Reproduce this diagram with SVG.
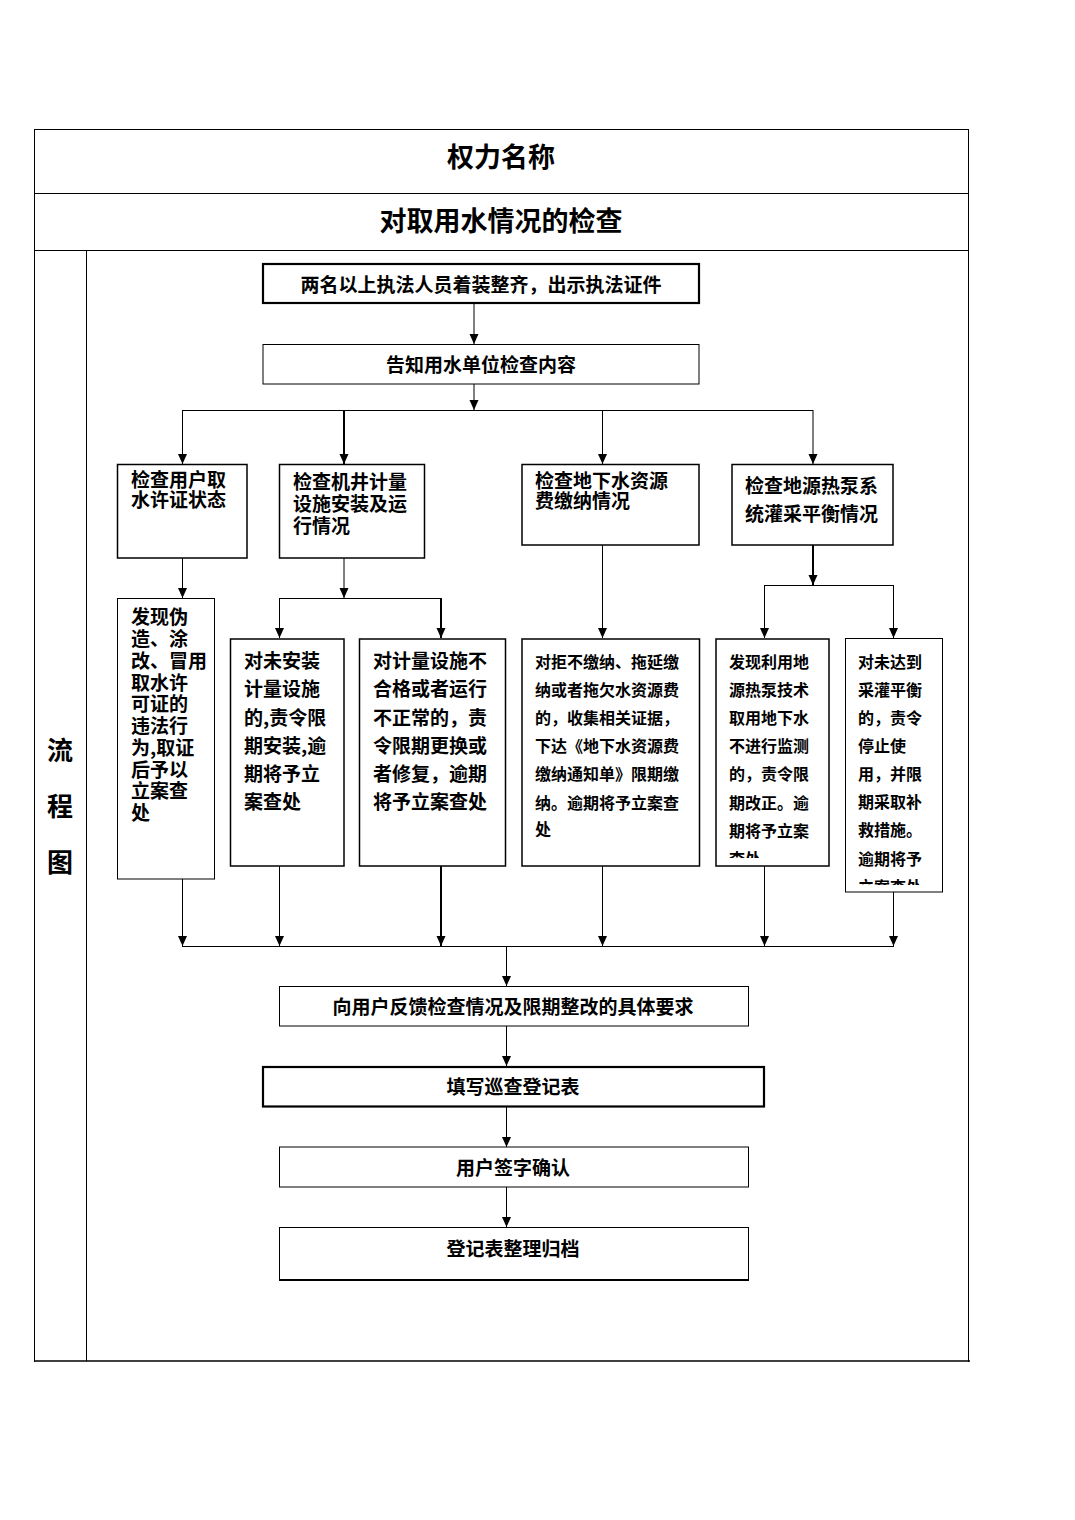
<svg xmlns="http://www.w3.org/2000/svg" width="1075" height="1520" viewBox="0 0 1075 1520">
<style>
text{font-family:"Noto Sans CJK SC","Noto Sans",sans-serif;font-weight:bold;fill:#000}
.t19{font-size:19px}
.t16{font-size:16px}
.c{text-anchor:middle}
.frame{fill:none;stroke:#000;stroke-width:1}
.box{fill:#fff;stroke:#000;stroke-width:1.5}
.thin{fill:#fff;stroke:#000;stroke-width:1}
.thick{fill:#fff;stroke:#000;stroke-width:2.2}
.ln{fill:none;stroke:#000;stroke-width:1}
.lnb{fill:none;stroke:#000;stroke-width:2}
.ar{fill:none;stroke:#000;stroke-width:1;marker-end:url(#ah)}
.arb{fill:none;stroke:#000;stroke-width:2;marker-end:url(#ahb)}
</style>
<defs>
<marker id="ah" markerUnits="userSpaceOnUse" viewBox="0 -5 10 10" refX="10" refY="0" markerWidth="10" markerHeight="10" orient="auto"><path d="M0,-4.5L10,0L0,4.5z" fill="#000"/></marker>
<marker id="ahb" markerUnits="userSpaceOnUse" viewBox="0 -5 10 10" refX="10" refY="0" markerWidth="10" markerHeight="10" orient="auto"><path d="M0,-4.5L10,0L0,4.5z" fill="#000"/></marker>
<clipPath id="clipI"><rect x="716" y="639" width="112" height="219"/></clipPath>
<clipPath id="clipJ"><rect x="846" y="639" width="96" height="246"/></clipPath>
</defs>
<rect width="1075" height="1520" fill="#fff"/>
<g id="table">
<line class="frame" x1="34" y1="129.5" x2="969" y2="129.5"/>
<line class="frame" x1="34" y1="193.5" x2="969" y2="193.5"/>
<line class="frame" x1="34" y1="250.5" x2="969" y2="250.5"/>
<line class="frame" x1="34.5" y1="129" x2="34.5" y2="1362"/>
<line class="frame" x1="968.5" y1="129" x2="968.5" y2="1362"/>
<line class="frame" x1="86.5" y1="250" x2="86.5" y2="1361"/>
<line x1="34" y1="1361" x2="970" y2="1361" stroke="#000" stroke-width="1.5"/>
<text x="501" y="167" style="font-size:27px" class="c">权力名称</text>
<text x="501" y="231" style="font-size:27px" class="c">对取用水情况的检查</text>
<text x="60" y="760" style="font-size:26px" class="c">流</text>
<text x="60" y="816" style="font-size:26px" class="c">程</text>
<text x="60" y="872" style="font-size:26px" class="c">图</text>
</g>
<g id="connectors">
<line class="ar" x1="474" y1="304" x2="474" y2="344"/>
<line class="ar" x1="474" y1="384" x2="474" y2="410"/>
<line class="ln" x1="182" y1="410.5" x2="813" y2="410.5"/>
<line class="ar" x1="182.5" y1="410" x2="182.5" y2="464"/>
<line class="arb" x1="344" y1="410" x2="344" y2="464"/>
<line class="ar" x1="602.5" y1="410" x2="602.5" y2="464"/>
<line class="ar" x1="813" y1="410" x2="813" y2="464"/>
<line class="ar" x1="182.5" y1="558" x2="182.5" y2="598"/>
<line class="ar" x1="344" y1="558" x2="344" y2="598"/>
<line class="ln" x1="279" y1="598.5" x2="441" y2="598.5"/>
<line class="ar" x1="279.5" y1="598" x2="279.5" y2="638"/>
<line class="arb" x1="441" y1="598" x2="441" y2="638"/>
<line class="ar" x1="602.5" y1="545" x2="602.5" y2="638"/>
<line class="arb" x1="813" y1="545" x2="813" y2="585"/>
<line class="ln" x1="764" y1="585.5" x2="893" y2="585.5"/>
<line class="ar" x1="764.5" y1="585" x2="764.5" y2="638"/>
<line class="ar" x1="893.5" y1="585" x2="893.5" y2="638"/>
<line class="ar" x1="182.5" y1="879" x2="182.5" y2="946"/>
<line class="ar" x1="279.5" y1="866" x2="279.5" y2="946"/>
<line class="arb" x1="441" y1="866" x2="441" y2="946"/>
<line class="ar" x1="602.5" y1="866" x2="602.5" y2="946"/>
<line class="ar" x1="764.5" y1="866" x2="764.5" y2="946"/>
<line class="ar" x1="893.5" y1="892" x2="893.5" y2="946"/>
<line class="ln" x1="182" y1="946.5" x2="894" y2="946.5"/>
<line class="ar" x1="506.5" y1="946" x2="506.5" y2="986"/>
<line class="ar" x1="506.5" y1="1026" x2="506.5" y2="1066"/>
<line class="ar" x1="506.5" y1="1107" x2="506.5" y2="1147"/>
<line class="ar" x1="506.5" y1="1187" x2="506.5" y2="1227"/>
</g>
<g id="n1"><rect class="thick" x="263" y="264" width="436" height="39"/><text class="t19 c" x="481" y="292">两名以上执法人员着装整齐，出示执法证件</text></g>
<g id="n2"><rect class="thin" x="263" y="344.5" width="436" height="39.5"/><text class="t19 c" x="481" y="372">告知用水单位检查内容</text></g>
<g id="nA"><rect class="box" x="117.5" y="464.5" width="129.5" height="93.5"/><text class="t19" x="131"><tspan x="131" y="487">检查用户取</tspan><tspan x="131" y="507">水许证状态</tspan></text></g>
<g id="nB"><rect class="box" x="279.5" y="464.5" width="145" height="93.5"/><text class="t19" x="293"><tspan x="293" y="489">检查机井计量</tspan><tspan x="293" y="511">设施安装及运</tspan><tspan x="293" y="533">行情况</tspan></text></g>
<g id="nC"><rect class="box" x="522" y="464.5" width="177" height="80.5"/><text class="t19" x="535"><tspan x="535" y="488">检查地下水资源</tspan><tspan x="535" y="508">费缴纳情况</tspan></text></g>
<g id="nD"><rect class="box" x="732" y="464.5" width="161" height="80.5"/><text class="t19" x="745"><tspan x="745" y="493">检查地源热泵系</tspan><tspan x="745" y="521">统灌采平衡情况</tspan></text></g>
<g id="nE"><rect class="thin" x="117.5" y="598.5" width="97" height="280.5"/><text class="t19" x="131"><tspan x="131" y="624">发现伪</tspan><tspan x="131" y="646">造、涂</tspan><tspan x="131" y="668">改、冒用</tspan><tspan x="131" y="690">取水许</tspan><tspan x="131" y="711">可证的</tspan><tspan x="131" y="733">违法行</tspan><tspan x="131" y="755">为,取证</tspan><tspan x="131" y="777">后予以</tspan><tspan x="131" y="798">立案查</tspan><tspan x="131" y="820">处</tspan></text></g>
<g id="nF"><rect class="box" x="230.5" y="639" width="113.5" height="227"/><text class="t19" x="244"><tspan x="244" y="668">对未安装</tspan><tspan x="244" y="696">计量设施</tspan><tspan x="244" y="725">的,责令限</tspan><tspan x="244" y="753">期安装,逾</tspan><tspan x="244" y="781">期将予立</tspan><tspan x="244" y="809">案查处</tspan></text></g>
<g id="nG"><rect class="box" x="359.5" y="639" width="146" height="227"/><text class="t19" x="373"><tspan x="373" y="668">对计量设施不</tspan><tspan x="373" y="696">合格或者运行</tspan><tspan x="373" y="725">不正常的，责</tspan><tspan x="373" y="753">令限期更换或</tspan><tspan x="373" y="781">者修复，逾期</tspan><tspan x="373" y="809">将予立案查处</tspan></text></g>
<g id="nH"><rect class="box" x="522" y="639" width="177.5" height="227"/><text class="t16" x="535"><tspan x="535" y="668">对拒不缴纳、拖延缴</tspan><tspan x="535" y="696">纳或者拖欠水资源费</tspan><tspan x="535" y="724">的，收集相关证据，</tspan><tspan x="535" y="752">下达《地下水资源费</tspan><tspan x="535" y="780">缴纳通知单》限期缴</tspan><tspan x="535" y="809">纳。逾期将予立案查</tspan><tspan x="535" y="835">处</tspan></text></g>
<g id="nI"><rect class="box" x="716" y="639" width="113" height="227"/><text class="t16" x="729" clip-path="url(#clipI)"><tspan x="729" y="668">发现利用地</tspan><tspan x="729" y="696">源热泵技术</tspan><tspan x="729" y="724">取用地下水</tspan><tspan x="729" y="752">不进行监测</tspan><tspan x="729" y="780">的，责令限</tspan><tspan x="729" y="809">期改正。逾</tspan><tspan x="729" y="837">期将予立案</tspan><tspan x="729" y="865">查处</tspan></text></g>
<g id="nJ"><rect class="thin" x="845.5" y="638.5" width="97" height="253.5"/><text class="t16" x="858" clip-path="url(#clipJ)"><tspan x="858" y="668">对未达到</tspan><tspan x="858" y="696">采灌平衡</tspan><tspan x="858" y="724">的，责令</tspan><tspan x="858" y="752">停止使</tspan><tspan x="858" y="780">用，并限</tspan><tspan x="858" y="808">期采取补</tspan><tspan x="858" y="836">救措施。</tspan><tspan x="858" y="865">逾期将予</tspan><tspan x="858" y="893">立案查处</tspan></text></g>
<g id="nK"><rect class="thin" x="279.5" y="986.5" width="469" height="39.5"/><text class="t19 c" x="513" y="1014">向用户反馈检查情况及限期整改的具体要求</text></g>
<g id="nL"><rect class="thick" x="263" y="1067" width="501" height="39.5"/><text class="t19 c" x="513" y="1094">填写巡查登记表</text></g>
<g id="nM"><rect class="thin" x="279.5" y="1147" width="469" height="40"/><text class="t19 c" x="513" y="1175">用户签字确认</text></g>
<g id="nN"><rect class="thin" x="279.5" y="1227.5" width="469" height="53"/><line x1="279" y1="1280" x2="749" y2="1280" stroke="#000" stroke-width="2"/><text class="t19 c" x="513" y="1256">登记表整理归档</text></g>
</svg>
